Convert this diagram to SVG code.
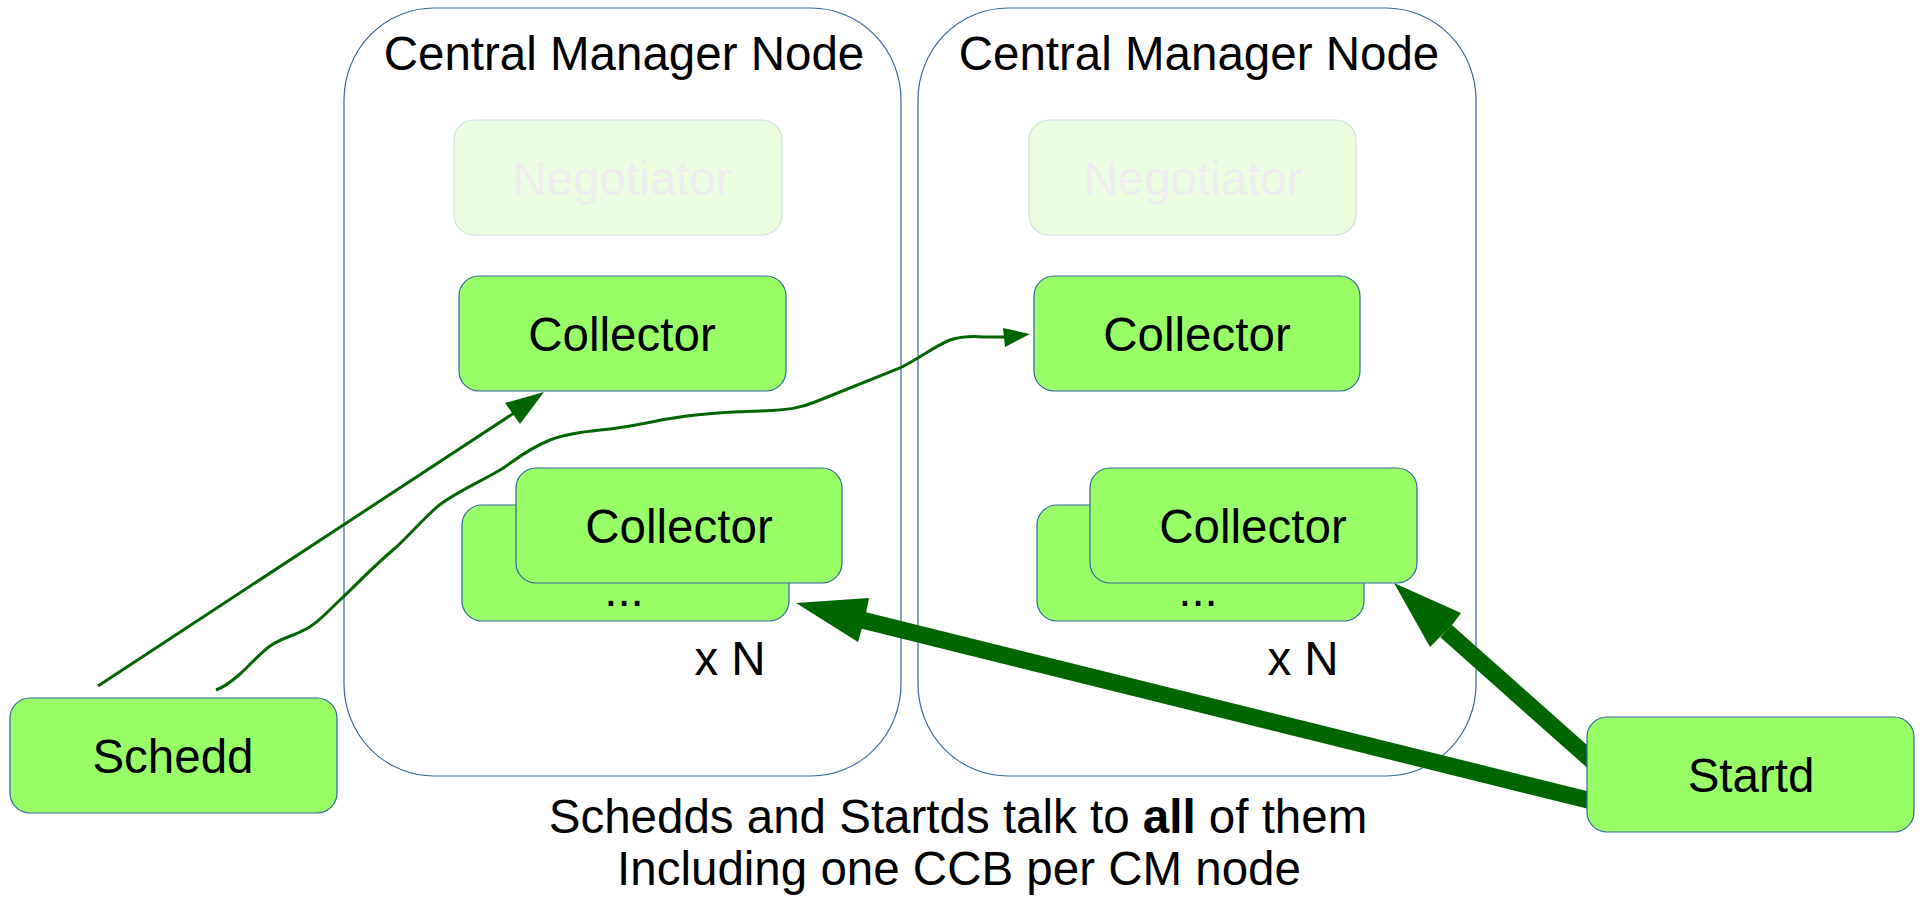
<svg xmlns="http://www.w3.org/2000/svg" width="1922" height="898" viewBox="0 0 1922 898">
  <style>
    text { font-family: "Liberation Sans", Arial, sans-serif; font-size: 47.5px; fill: #000; text-anchor: middle; }
    .cm { fill: none; stroke: #3465a4; stroke-width: 1.2; }
    .node { fill: #99ff66; stroke: #3465a4; stroke-width: 1.2; }
    .ghost { fill: #ebffe0; stroke: #cfe0e0; stroke-width: 1.2; }
    .ghost-label { fill: #eeecef; }
    .thin { fill: none; stroke: #006600; stroke-width: 3; }
    .thick { fill: none; stroke: #006600; stroke-width: 17; }
    .head { fill: #006600; }
  </style>

  <!-- Central manager containers -->
  <g id="cm1">
    <rect class="cm" x="344" y="8" width="557" height="768" rx="90" ry="92"/>
    <text x="624" y="70">Central Manager Node</text>
  </g>
  <g id="cm2">
    <rect class="cm" x="918" y="8" width="558" height="768" rx="90" ry="92"/>
    <text x="1199" y="70">Central Manager Node</text>
  </g>

  <!-- Connectors -->
  <g id="connectors">
    <!-- Schedd to collector (straight) -->
    <line class="thin" x1="98" y1="686" x2="514" y2="413"/>
    <polygon class="head" points="544,392 505,403 520,424"/>
    <!-- Schedd to second collector (wavy) -->
    <path class="thin" d="M216,690 C225,687 232,681 240,674 C248,667 258,655 270,646 C282,638 292,636 300,632 C315,626 325,614 340,600 C358,583 375,565 393,550 C405,540 420,522 437,507 C452,494 480,482 500,470 C512,463 525,450 550,440 C565,434 580,432 600,430 C625,428 645,423 667,419 C690,415 720,412 760,411 C790,410 800,408 815,402 C840,392 870,380 900,368 C920,358 935,346 950,340 C962,336 972,336 985,337 L1006,337"/>
    <polygon class="head" points="1030,334 1003,328 1005,347"/>
    <!-- Startd to collector pool 1 -->
    <line class="thick" x1="1600" y1="803" x2="862" y2="620"/>
    <polygon class="head" points="796,603 869,598 866,613 862,628 858,642"/>
    <!-- Startd to collector pool 2 -->
    <line class="thick" x1="1598" y1="766" x2="1446" y2="631"/>
    <polygon class="head" points="1394,583 1461,613 1452,625 1440,637 1430,647"/>
  </g>

  <g id="negotiator1">
    <rect class="ghost" x="454" y="120" width="328" height="115" rx="20"/>
    <text class="ghost-label" x="622" y="195">Negotiator</text>
  </g>
  <g id="negotiator2">
    <rect class="ghost" x="1029" y="120" width="327" height="115" rx="20"/>
    <text class="ghost-label" x="1193" y="195">Negotiator</text>
  </g>

  <g id="collector1">
    <rect class="node" x="459" y="276" width="327" height="115" rx="20"/>
    <text x="622" y="351">Collector</text>
  </g>
  <g id="collector2">
    <rect class="node" x="1034" y="276" width="326" height="115" rx="20"/>
    <text x="1197" y="351">Collector</text>
  </g>

  <g id="pool1">
    <rect class="node" x="462" y="505" width="327" height="116" rx="20"/>
    <text x="624" y="606">...</text>
    <rect class="node" x="516" y="468" width="326" height="115" rx="20"/>
    <text x="679" y="543">Collector</text>
    <text x="730" y="675">x N</text>
  </g>
  <g id="pool2">
    <rect class="node" x="1037" y="505" width="327" height="116" rx="20"/>
    <text x="1198" y="606">...</text>
    <rect class="node" x="1090" y="468" width="327" height="115" rx="20"/>
    <text x="1253" y="543">Collector</text>
    <text x="1303" y="675">x N</text>
  </g>

  <g id="schedd">
    <rect class="node" x="10" y="698" width="327" height="115" rx="20"/>
    <text x="173" y="773">Schedd</text>
  </g>
  <g id="startd">
    <rect class="node" x="1587" y="717" width="327" height="115" rx="20"/>
    <text x="1751" y="792">Startd</text>
  </g>

  <g id="caption">
    <text x="958" y="833">Schedds and Startds talk to <tspan font-weight="bold">all</tspan> of them</text>
    <text x="959" y="885">Including one CCB per CM node</text>
  </g>
</svg>
